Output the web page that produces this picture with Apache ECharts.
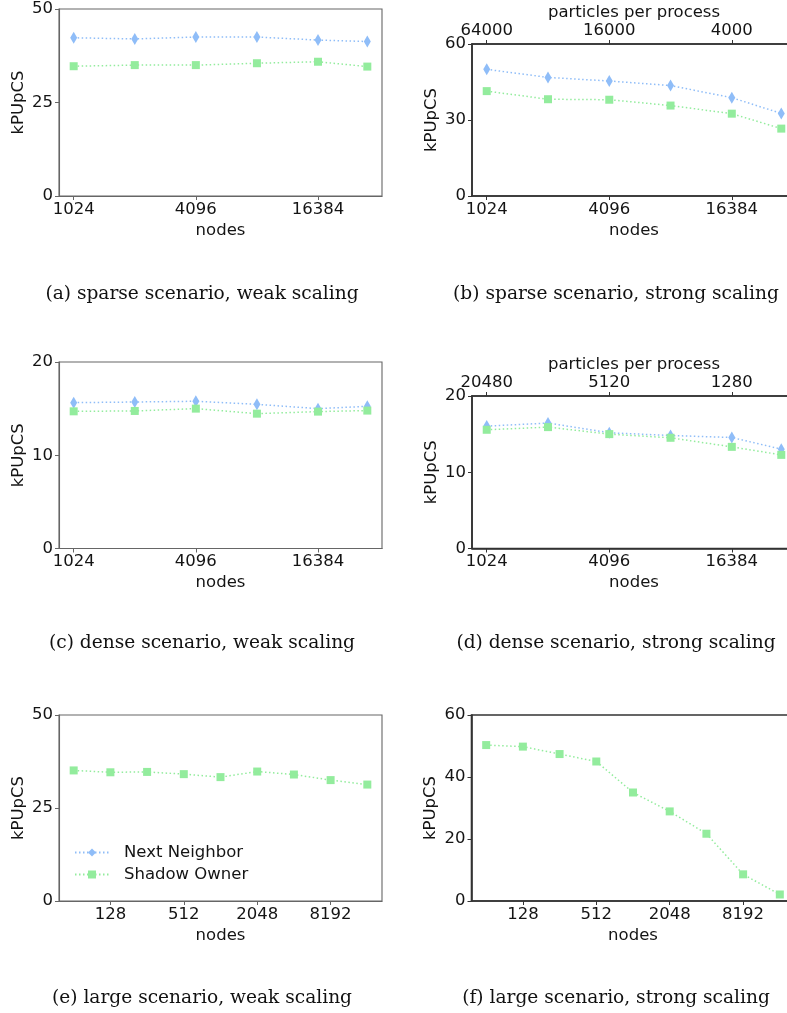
<!DOCTYPE html>
<html>
<head>
<meta charset="utf-8">
<script src="https://cdn.jsdelivr.net/npm/echarts@6/dist/echarts.min.js"></script>
<style>
html,body{margin:0;padding:0;background:#fff;}
#main{width:787px;height:1013px;}
</style>
</head>
<body>
<div id="main"></div>
<script>
// ---- data ----
const nodesSmall = [1024, 2048, 4096, 8192, 16384, 28672];
const nodesLarge = [64, 128, 256, 512, 1024, 2048, 4096, 8192, 16384];
const ticksSmall = [1024, 4096, 16384];
const ticksLarge = [128, 512, 2048, 8192];
const topLabelsB = ['64000', '16000', '4000'];
const topLabelsD = ['20480', '5120', '1280'];

const nnA = [42.3, 42.0, 42.5, 42.5, 41.7, 41.3];
const soA = [34.7, 35.0, 35.0, 35.5, 35.9, 34.6];
const nnB = [50.0, 46.8, 45.4, 43.6, 38.8, 32.6];
const soB = [41.4, 38.2, 38.0, 35.7, 32.5, 26.6];
const nnC = [15.64, 15.71, 15.79, 15.46, 15.0, 15.25];
const soC = [14.71, 14.75, 15.0, 14.46, 14.68, 14.79];
const nnD = [16.05, 16.45, 15.18, 14.82, 14.56, 13.03];
const soD = [15.57, 15.92, 15.0, 14.52, 13.33, 12.28];
const soE = [35.1, 34.6, 34.7, 34.1, 33.3, 34.8, 34.0, 32.5, 31.3];
const soF = [50.3, 49.8, 47.4, 45.0, 35.0, 28.9, 21.7, 8.6, 2.1];

const yMaxA = 50, yIntA = 25;
const yMaxB = 60, yIntB = 30;
const yMaxC = 20, yIntC = 10;
const yMaxD = 20, yIntD = 10;
const yMaxE = 50, yIntE = 25;
const yMaxF = 60, yIntF = 20;

const captions = [
  '(a) sparse scenario, weak scaling',
  '(b) sparse scenario, strong scaling',
  '(c) dense scenario, weak scaling',
  '(d) dense scenario, strong scaling',
  '(e) large scenario, weak scaling',
  '(f) large scenario, strong scaling'
];
const seriesNames = ['Next Neighbor', 'Shadow Owner'];

// ---- styles ----
const NN_COLOR = '#8fbdf8';
const SO_COLOR = '#93ec9d';
const FONT = 'DejaVu Sans';
const FS = 16.5;
const TXT = '#141414';

function logRange(nodes) {
  const r = Math.pow(nodes[nodes.length - 1] / nodes[0], 0.05);
  return [nodes[0] / r, nodes[nodes.length - 1] * r];
}
function pick(arr, ticks, v) {
  let best = 0, bd = Infinity;
  ticks.forEach((t, i) => { const d = Math.abs(Math.log(t) - Math.log(v)); if (d < bd) { bd = d; best = i; } });
  return arr[best];
}

const grids = [
  {left: 59, top: 9, width: 323, height: 187, col: 0},
  {left: 472, top: 44, width: 324, height: 152, col: 1},
  {left: 59, top: 362, width: 323, height: 186.5, col: 0},
  {left: 472, top: 396, width: 324, height: 152.5, col: 1},
  {left: 59, top: 715, width: 323, height: 186, col: 0},
  {left: 471.5, top: 715, width: 323, height: 186, col: 1}
];
const frameColor = ['#666', '#333'];
const frameWidth = [1.1, 1.6];

const panelNodes = [nodesSmall, nodesSmall, nodesSmall, nodesSmall, nodesLarge, nodesLarge];
const panelTicks = [ticksSmall, ticksSmall, ticksSmall, ticksSmall, ticksLarge, ticksLarge];
const panelY = [[yMaxA, yIntA], [yMaxB, yIntB], [yMaxC, yIntC], [yMaxD, yIntD], [yMaxE, yIntE], [yMaxF, yIntF]];
const panelNN = [nnA, nnB, nnC, nnD, null, null];
const panelSO = [soA, soB, soC, soD, soE, soF];

const grid = [], xAxis = [], yAxis = [], series = [], title = [];

grids.forEach((g, i) => {
  const fc = frameColor[g.col], fw = frameWidth[g.col];
  grid.push({left: g.left, top: g.top, width: g.width, height: g.height,
    outerBoundsMode: 'none', containLabel: false,
    show: true, borderColor: fc, borderWidth: fw, backgroundColor: 'transparent'});
  const rng = logRange(panelNodes[i]);
  const ticks = panelTicks[i];
  xAxis.push({
    type: 'log', logBase: 2, gridIndex: i, position: 'bottom',
    min: rng[0], max: rng[1],
    name: 'nodes', nameLocation: 'middle', nameGap: 26,
    nameTextStyle: {fontFamily: FONT, fontSize: FS, color: TXT},
    axisLine: {show: true, lineStyle: {color: fc, width: fw}},
    axisTick: {show: true, length: 4, lineStyle: {color: fc, width: 1}, customValues: ticks},
    axisLabel: {show: true, margin: 5, fontFamily: FONT, fontSize: FS, color: TXT,
      customValues: ticks, formatter: v => String(Math.round(v))},
    splitLine: {show: false}, minorTick: {show: false}
  });
  const ym = panelY[i];
  yAxis.push({
    type: 'value', gridIndex: i, min: 0, max: ym[0], interval: ym[1],
    name: 'kPUpCS', nameLocation: 'middle', nameGap: 32, nameRotate: 90,
    nameTextStyle: {fontFamily: FONT, fontSize: FS, color: TXT},
    axisLine: {show: true, lineStyle: {color: fc, width: fw}},
    axisTick: {show: true, length: 4, lineStyle: {color: fc, width: 1}},
    axisLabel: {margin: 6, fontFamily: FONT, fontSize: FS, color: TXT},
    splitLine: {show: false}
  });
});

// top axes for strong-scaling panels (b) and (d)
[[1, topLabelsB], [3, topLabelsD]].forEach(([gi, labels]) => {
  const g = grids[gi];
  const fc = frameColor[g.col], fw = frameWidth[g.col];
  const rng = logRange(nodesSmall);
  xAxis.push({
    type: 'log', logBase: 2, gridIndex: gi, position: 'top',
    min: rng[0], max: rng[1],
    name: 'particles per process', nameLocation: 'middle', nameGap: 23,
    nameTextStyle: {fontFamily: FONT, fontSize: FS, color: TXT},
    axisLine: {show: true, lineStyle: {color: fc, width: fw}},
    axisTick: {show: true, length: 4, lineStyle: {color: fc, width: 1}, customValues: ticksSmall},
    axisLabel: {show: true, margin: 5, fontFamily: FONT, fontSize: FS, color: TXT,
      customValues: ticksSmall, formatter: v => pick(labels, ticksSmall, v)},
    splitLine: {show: false}, minorTick: {show: false}
  });
});

function mkSeries(name, idx, nodes, vals, isNN) {
  return {
    type: 'line', name: name, xAxisIndex: idx, yAxisIndex: idx,
    data: nodes.map((n, k) => [n, vals[k]]),
    symbol: isNN ? 'diamond' : 'rect',
    symbolSize: isNN ? [7, 12] : [8, 8],
    showAllSymbol: true,
    itemStyle: {color: isNN ? NN_COLOR : SO_COLOR},
    lineStyle: {color: isNN ? NN_COLOR : SO_COLOR, width: 1.5, type: [1.5, 2.5]},
    emphasis: {disabled: true},
    animation: false
  };
}

for (let i = 0; i < 6; i++) {
  if (panelNN[i]) series.push(mkSeries(seriesNames[0], i, panelNodes[i], panelNN[i], true));
  series.push(mkSeries(seriesNames[1], i, panelNodes[i], panelSO[i], false));
}

const capPos = [[197, 280], [611, 280], [197, 629], [611, 629], [197, 984], [611, 984]];
captions.forEach((c, i) => {
  title.push({text: c, left: capPos[i][0], top: capPos[i][1], textAlign: 'center',
    textStyle: {fontFamily: 'DejaVu Serif', fontWeight: 'normal', fontSize: 18.6, color: '#111'}});
});

const option = {
  backgroundColor: '#fff',
  animation: false,
  title: title,
  grid: grid,
  xAxis: xAxis,
  yAxis: yAxis,
  legend: {
    data: seriesNames, orient: 'vertical', left: 69, top: 839,
    itemWidth: 34, itemHeight: 10, itemGap: 5,
    textStyle: {fontFamily: FONT, fontSize: FS, color: TXT, padding: [0, 0, 0, 10]},
    selectedMode: false
  },
  series: series
};

const chart = echarts.init(document.getElementById('main'), null, {renderer: 'canvas'});
chart.setOption(option);
</script>
</body>
</html>
